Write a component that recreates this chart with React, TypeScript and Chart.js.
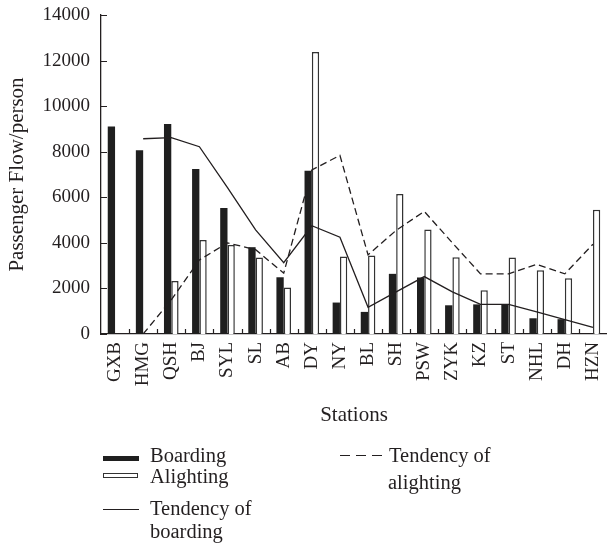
import React, { useEffect, useRef } from 'react';
import { Chart, registerables } from 'chart.js';

Chart.register(...registerables);

const stations = ['GXB', 'HMG', 'QSH', 'BJ', 'SYL', 'SL', 'AB', 'DY', 'NY', 'BL', 'SH', 'PSW', 'ZYK', 'KZ', 'ST', 'NHL', 'DH', 'HZN'];
const boarding = [9110, 8060, 9220, 7240, 5530, 3810, 2490, 7170, 1380, 970, 2640, 2480, 1260, 1300, 1300, 690, 650, 0];
const alighting = [0, 0, 2330, 4130, 3910, 3360, 2040, 12380, 3400, 3440, 6140, 4590, 3370, 1920, 3360, 2800, 2450, 5450];
const boardingTrend = [null, 8570, 8620, 8220, 6420, 4570, 3130, 4750, 4250, 1170, 1850, 2520, 1850, 1300, 1300, 970, 630, 290];
const alightingTrend = [null, 0, 1500, 3250, 4000, 3700, 2670, 7200, 7840, 3470, 4550, 5380, 4000, 2640, 2640, 3060, 2640, 3940];

const yMin = 0;
const yMax = 14000;
const yStep = 2000;

const INK = '#231f20';
const FONT = '"Liberation Serif", "Times New Roman", serif';

const insideTicks = {
  id: 'insideTicks',
  afterDraw(chart: any) {
    const { ctx, chartArea, scales } = chart;
    const xs = scales.x;
    const ys = scales.y;
    ctx.save();
    ctx.strokeStyle = INK;
    ctx.lineWidth = 1.2;
    ctx.beginPath();
    ys.ticks.forEach((_t: any, i: number) => {
      const py = Math.round(ys.getPixelForTick(i)) + 0.5;
      ctx.moveTo(chartArea.left, py);
      ctx.lineTo(chartArea.left + 6, py);
    });
    for (let i = 1; i < stations.length; i++) {
      const px = Math.round((xs.getPixelForTick(i - 1) + xs.getPixelForTick(i)) / 2) + 0.5;
      ctx.moveTo(px, chartArea.bottom);
      ctx.lineTo(px, chartArea.bottom - 5);
    }
    ctx.stroke();
    ctx.restore();
  },
};

const legendText: React.CSSProperties = {
  position: 'absolute',
  fontFamily: FONT,
  fontSize: 20.5,
  lineHeight: '22px',
  color: INK,
  whiteSpace: 'nowrap',
};

const dash = (left: number, top: number): React.CSSProperties => ({
  position: 'absolute',
  left,
  top,
  width: 10,
  height: 1.3,
  background: INK,
});

export default function App() {
  const ref = useRef<HTMLCanvasElement | null>(null);

  useEffect(() => {
    if (!ref.current) return;
    const chart = new Chart(ref.current, {
      type: 'bar',
      data: {
        labels: stations,
        datasets: [
          {
            type: 'line',
            label: 'Tendency of boarding',
            data: boardingTrend,
            borderColor: INK,
            borderWidth: 1.3,
            pointRadius: 0,
            fill: false,
            tension: 0,
            order: 1,
          } as any,
          {
            type: 'line',
            label: 'Tendency of alighting',
            data: alightingTrend,
            borderColor: INK,
            borderWidth: 1.3,
            borderDash: [7, 4],
            pointRadius: 0,
            fill: false,
            tension: 0,
            order: 1,
          } as any,
          {
            type: 'bar',
            label: 'Boarding',
            data: boarding,
            backgroundColor: '#1f1f1f',
            borderWidth: 0,
            barPercentage: 1,
            categoryPercentage: 0.52,
            order: 2,
          },
          {
            type: 'bar',
            label: 'Alighting',
            data: alighting,
            backgroundColor: '#ffffff',
            borderColor: '#333333',
            borderWidth: 1.5,
            barPercentage: 1,
            categoryPercentage: 0.52,
            order: 2,
          },
        ],
      },
      options: {
        responsive: false,
        animation: false,
        devicePixelRatio: 1,
        layout: { padding: { left: 0, right: 0, top: 15, bottom: 120 } },
        plugins: {
          legend: { display: false },
          tooltip: { enabled: false },
        },
        scales: {
          x: {
            afterFit: (s: any) => {
              s.height = 94;
              s.paddingLeft = 0;
              s.paddingRight = 0;
            },
            grid: { display: false, drawTicks: false },
            border: { display: true, color: INK, width: 1.3 },
            ticks: {
              autoSkip: false,
              minRotation: 90,
              maxRotation: 90,
              padding: 8,
              color: INK,
              font: { family: FONT, size: 19 },
            },
            title: {
              display: true,
              text: 'Stations',
              color: INK,
              padding: { top: 0, bottom: 0 },
              font: { family: FONT, size: 21 },
            },
          },
          y: {
            min: yMin,
            max: yMax,
            afterFit: (s: any) => {
              s.width = 101;
              s.paddingTop = 0;
              s.paddingBottom = 0;
            },
            grid: { display: false, drawTicks: false },
            border: { display: true, color: INK, width: 1.3 },
            ticks: {
              stepSize: yStep,
              padding: 11,
              color: INK,
              font: { family: FONT, size: 19 },
              callback: (v: any) => String(v),
            },
            title: {
              display: true,
              text: 'Passenger Flow/person',
              color: INK,
              padding: { top: 5, bottom: 0 },
              font: { family: FONT, size: 21 },
            },
          },
        },
      },
      plugins: [insideTicks],
    });
    return () => chart.destroy();
  }, []);

  return (
    <div style={{ position: 'fixed', left: 0, top: 0, width: 607, height: 548, background: '#fff' }}>
      <canvas ref={ref} width={607} height={548} style={{ width: 607, height: 548, display: 'block' }} />
      <div style={{ position: 'absolute', left: 103, top: 456, width: 36, height: 5, background: '#1f1f1f' }} />
      <div style={{ ...legendText, left: 150, top: 444 }}>Boarding</div>
      <div style={{ position: 'absolute', left: 103, top: 473, width: 33, height: 3, border: '1.5px solid #333', background: '#fff' }} />
      <div style={{ ...legendText, left: 150, top: 465 }}>Alighting</div>
      <div style={{ position: 'absolute', left: 103, top: 509, width: 36, height: 1.3, background: INK }} />
      <div style={{ ...legendText, left: 150, top: 497 }}>Tendency of</div>
      <div style={{ ...legendText, left: 150, top: 520 }}>boarding</div>
      <div style={dash(340, 455)} />
      <div style={dash(356, 455)} />
      <div style={dash(372, 455)} />
      <div style={{ ...legendText, left: 389, top: 444 }}>Tendency of</div>
      <div style={{ ...legendText, left: 388, top: 471 }}>alighting</div>
    </div>
  );
}
